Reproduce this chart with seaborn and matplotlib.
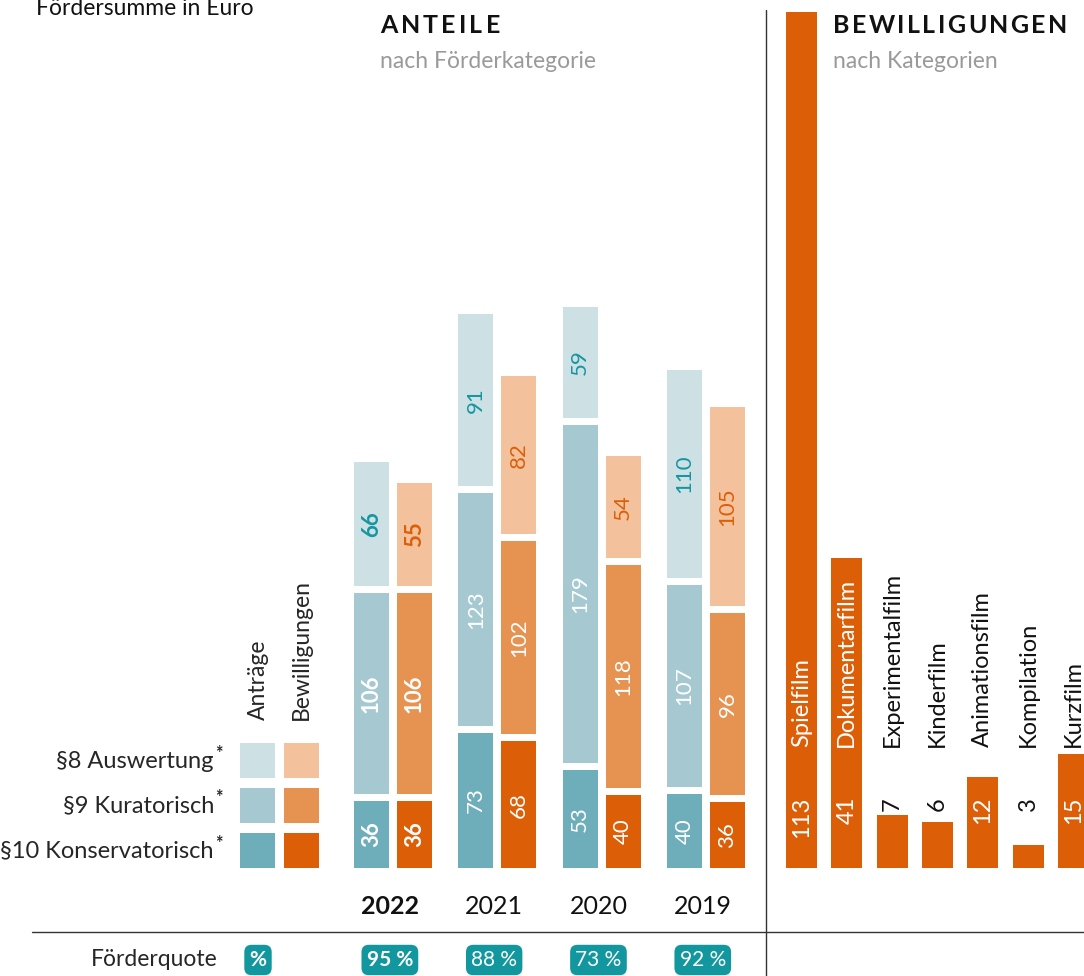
import numpy as np
import pandas as pd
import seaborn as sns
import matplotlib.pyplot as plt
from matplotlib.patches import Rectangle

# ---- data ----
years = ["2022", "2021", "2020", "2019"]
quote = ["95 %", "88 %", "73 %", "92 %"]

# number of cases (labels)
ant_p10 = [36, 73, 53, 40]
ant_p9 = [106, 123, 179, 107]
ant_p8 = [66, 91, 59, 110]
bew_p10 = [36, 68, 40, 36]
bew_p9 = [106, 102, 118, 96]
bew_p8 = [55, 82, 54, 105]

# Fördersumme (relative units)
ant_sum_p10 = [67, 135, 98, 74]
ant_sum_p9 = [201, 233, 338, 202]
ant_sum_p8 = [124, 172, 111, 208]
bew_sum_p10 = [67, 127, 73, 66]
bew_sum_p9 = [201, 193, 223, 182]
bew_sum_p8 = [103, 158, 102, 199]

categories = ["Spielfilm", "Dokumentarfilm", "Experimentalfilm", "Kinderfilm",
              "Animationsfilm", "Kompilation", "Kurzfilm"]
cat_count = [113, 41, 7, 6, 12, 3, 15]
cat_sum = [856, 310, 53, 46, 91, 23, 114]

legend_labels = ["§8 Auswertung", "§9 Kuratorisch", "§10 Konservatorisch"]

# ---- style ----
sns.set_theme(style="white")
plt.rcParams['font.family'] = ['Lato', 'DejaVu Sans']

teal_cols = ["#6eaeba", "#a6c9d1", "#cde0e4"]
orange_cols = ["#dc5f08", "#e69250", "#f3c19c"]
teal_txt = "#1596a2"
orange_txt = "#dc5f08"
badge = "#13979f"

W, H = 1084, 976
fig = plt.figure(figsize=(W / 100, H / 100), dpi=100)
renderer = fig.canvas.get_renderer()


def px(x, y):
    return x / W, 1 - y / H


def tracked(x, y, s, track, **kw):
    # letter-spaced header text, x/y in pixels
    for ch in s:
        t = fig.text(*px(x, y), ch, va="baseline", **kw)
        x += t.get_window_extent(renderer).width + track


# left axes: 1 y-unit = 1 px, x in year-index units
step = 104.3
x0 = 393
ax = fig.add_axes([0, 0, 766 / W, 1])
ax.set_xlim(-x0 / step, (766 - x0) / step)
ax.set_ylim(-108, 868)
ax.axis("off")

xpos = np.arange(len(years))
w = 35 / step
off = 21.5 / step
gap = 7

groups = [
    ([ant_sum_p10, ant_sum_p9, ant_sum_p8], [ant_p10, ant_p9, ant_p8], teal_cols, teal_txt, -off),
    ([bew_sum_p10, bew_sum_p9, bew_sum_p8], [bew_p10, bew_p9, bew_p8], orange_cols, orange_txt, off),
]
for sums, counts, cols, top_txt, o in groups:
    bottom = np.zeros(len(years))
    for k in range(3):
        h = np.array(sums[k], dtype=float)
        ax.bar(xpos + o, h, width=w, bottom=bottom, color=cols[k], linewidth=0)
        for i in range(len(years)):
            ax.text(xpos[i] + o, bottom[i] + h[i] / 2, str(counts[k][i]),
                    rotation=90, ha="center", va="center", fontsize=16,
                    color="white" if k < 2 else top_txt,
                    fontweight="bold" if i == 0 else "normal")
        bottom += h + gap

# year labels and quote badges
for i, y in enumerate(years):
    ax.text(xpos[i] - 0.03, -39, y, ha="center", va="center", fontsize=18,
            fontweight="bold" if i == 0 else "normal", color="#111111")
    ax.text(xpos[i] - 0.03, -92, quote[i], ha="center", va="center", fontsize=15,
            color="white", fontweight="bold" if i == 0 else "normal",
            bbox=dict(boxstyle="round,pad=0.25,rounding_size=0.35", fc=badge, ec="none"))

# legend squares
lx = [(258 - x0) / step, (301.5 - x0) / step]
rows = [(90, 2), (45, 1), (0, 0)]
for r, (yb, k) in enumerate(rows):
    ax.add_patch(Rectangle((lx[0] - w / 2, yb), w, 35, color=teal_cols[k], lw=0))
    ax.add_patch(Rectangle((lx[1] - w / 2, yb), w, 35, color=orange_cols[k], lw=0))
    ax.text((214 - x0) / step, yb + 17, legend_labels[r], ha="right", va="center", fontsize=17)
    ax.text((215 - x0) / step, yb + 25, "*", ha="left", va="center", fontsize=13,
            fontweight="bold")

ax.text(lx[0], 148, "Anträge", rotation=90, ha="center", va="bottom", fontsize=16.5)
ax.text(lx[1], 148, "Bewilligungen", rotation=90, ha="center", va="bottom", fontsize=16.5)
ax.text(lx[0], -92, "%", ha="center", va="center", fontsize=15, color="white",
        fontweight="bold",
        bbox=dict(boxstyle="round,pad=0.25,rounding_size=0.35", fc=badge, ec="none"))

# right axes: categories
step2 = 45.3
c0 = 801.5
ax2 = fig.add_axes([766 / W, 0, (W - 766) / W, 1])
df = pd.DataFrame({"Kategorie": categories, "Summe": cat_sum, "Anzahl": cat_count})
sns.barplot(data=df, x="Kategorie", y="Summe", color=orange_cols[0], saturation=1,
            width=31 / step2, ax=ax2, linewidth=0)
ax2.set_xlim(-(c0 - 766) / step2, (W - c0) / step2)
ax2.set_ylim(-108, 868)
ax2.axis("off")

for i, row in df.iterrows():
    ax2.text(i, 71, str(row["Anzahl"]), rotation=90, rotation_mode="anchor",
             ha="right", va="center", fontsize=17,
             color="white" if row["Summe"] > 75 else "#111111")
    ax2.text(i, 121, row["Kategorie"], rotation=90, rotation_mode="anchor",
             ha="left", va="center", fontsize=17,
             color="white" if row["Summe"] > 300 else "#111111")

# headers and rules
fig.text(*px(36, 15), "Fördersumme in Euro", fontsize=16.5, va="baseline", color="#111111")
tracked(380, 33, "ANTEILE", 3.2, fontsize=18, fontweight="bold", color="#111111")
fig.text(*px(380, 68), "nach Förderkategorie", fontsize=16.5, va="baseline", color="#9a9a9a")
tracked(833, 33, "BEWILLIGUNGEN", 2.4, fontsize=18, fontweight="bold", color="#111111")
fig.text(*px(833, 68), "nach Kategorien", fontsize=16.5, va="baseline", color="#9a9a9a")
fig.text(*px(218, 960), "Förderquote", fontsize=16.5, ha="right", va="center")

fig.add_artist(plt.Line2D([px(766, 0)[0]] * 2, [px(0, 10)[1], 0], color="#333333", lw=1))
fig.add_artist(plt.Line2D([px(32, 0)[0], 1], [px(0, 932)[1]] * 2, color="#333333", lw=1))

fig.savefig("out.png", dpi=100)
